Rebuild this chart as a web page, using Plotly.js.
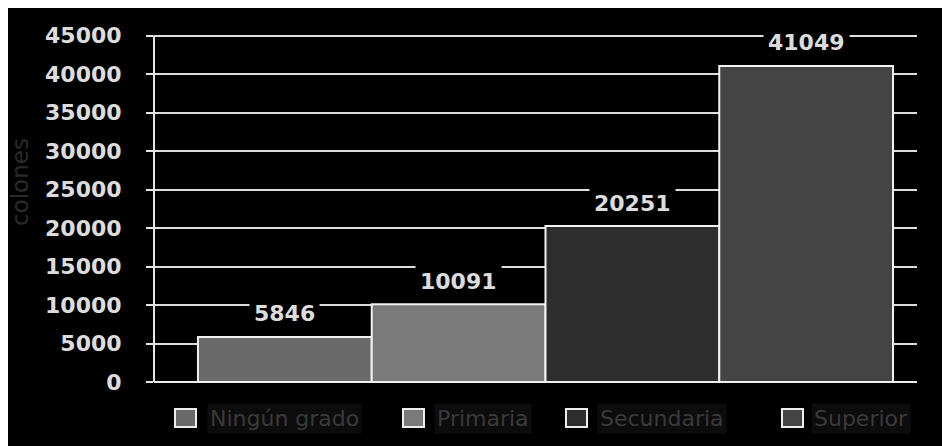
<!DOCTYPE html>
<html>
<head>
<meta charset="utf-8">
<script src="https://cdn.plot.ly/plotly-3.0.1.min.js"></script>
<style>
  html, body { margin: 0; padding: 0; background: #ffffff; }
  #chart { position: absolute; left: 8px; top: 8px; width: 934px; height: 438px; }
</style>
</head>
<body>
<div id="chart"></div>
<script>
// Ingreso promedio por nivel educativo
const categories = ["Ningún grado", "Primaria", "Secundaria", "Superior"];
const values = [5846, 10091, 20251, 41049];
const barColors = ["#6a6a6a", "#7a7a7a", "#2d2d2d", "#444444"];
const yTicks = [0, 5000, 10000, 15000, 20000, 25000, 30000, 35000, 40000, 45000];
const yTitle = "colones";

// plot-area geometry in page pixels (used for the hand-placed legend)
const plotLeft = 154, plotRight = 917, plotTop = 34, plotBottom = 382;
const px = x => (x - plotLeft) / (plotRight - plotLeft);
const py = y => (plotBottom - y) / (plotBottom - plotTop);

const traces = categories.map((name, i) => ({
  type: "bar",
  name: name,
  x: [i],
  y: [values[i]],
  width: 1,
  marker: { color: barColors[i], line: { color: "#f2f2f2", width: 2 } },
  hoverinfo: "skip"
}));

const labelFont = { family: "DejaVu Sans", size: 22, weight: "bold", color: "#dcdcdc" };

const annotations = categories.map((name, i) => ({
  x: i, y: values[i], xref: "x", yref: "y",
  text: String(values[i]),
  showarrow: false,
  yanchor: "middle",
  yshift: 23,
  bgcolor: "#000000",
  borderpad: 4,
  font: labelFont
}));

// legend entries
const legendBoxX = [175, 403, 566, 782];
const legendTextX = [207, 434, 597, 811];
const shapes = [];
categories.forEach((name, i) => {
  shapes.push({
    type: "rect", xref: "paper", yref: "paper",
    x0: px(legendBoxX[i]), x1: px(legendBoxX[i] + 21),
    y0: py(427), y1: py(409),
    fillcolor: barColors[i],
    line: { color: "#eeeeee", width: 2 }
  });
  annotations.push({
    xref: "paper", yref: "paper",
    x: px(legendTextX[i]), y: py(418),
    xanchor: "left", yanchor: "middle",
    text: name,
    showarrow: false,
    bgcolor: "#0c0c0c",
    borderpad: 2,
    font: { family: "DejaVu Sans", size: 22, color: "#3a3a3a" }
  });
});

annotations.push({
  xref: "paper", yref: "paper",
  x: px(20), y: py(182),
  xanchor: "center", yanchor: "middle",
  text: yTitle,
  textangle: -90,
  showarrow: false,
  font: { family: "DejaVu Sans", size: 23, color: "#2b2b2b" }
});

const layout = {
  width: 934, height: 438,
  margin: { l: 146, r: 25, t: 26, b: 64, pad: 0 },
  paper_bgcolor: "#000000",
  plot_bgcolor: "#000000",
  barmode: "overlay",
  showlegend: false,
  xaxis: {
    range: [-0.753, 3.638],
    showgrid: false, zeroline: false, showticklabels: false, ticks: "",
    showline: false, fixedrange: true
  },
  yaxis: {
    // a little headroom so the 45000 gridline is drawn inside the plot area
    range: [0, 45200],
    tickvals: yTicks,
    ticktext: yTicks.map(String),
    showgrid: true, gridcolor: "#dddddd", gridwidth: 2,
    zeroline: true, zerolinecolor: "#eeeeee", zerolinewidth: 2,
    showline: false,
    ticks: "outside", ticklen: 7, tickwidth: 2, tickcolor: "#e6e6e6",
    ticklabelstandoff: 20,
    tickfont: { family: "DejaVu Sans", size: 22, weight: "bold", color: "#dcdcdc" },
    fixedrange: true
  },
  annotations: annotations,
  shapes: shapes.concat([{
    // vertical value axis from the baseline to the top gridline
    type: "line", xref: "paper", yref: "y",
    x0: 0, x1: 0, y0: 0, y1: yTicks[yTicks.length - 1],
    line: { color: "#e6e6e6", width: 2 }
  }])
};

Plotly.newPlot("chart", traces, layout, { displayModeBar: false, staticPlot: true });
</script>
</body>
</html>
